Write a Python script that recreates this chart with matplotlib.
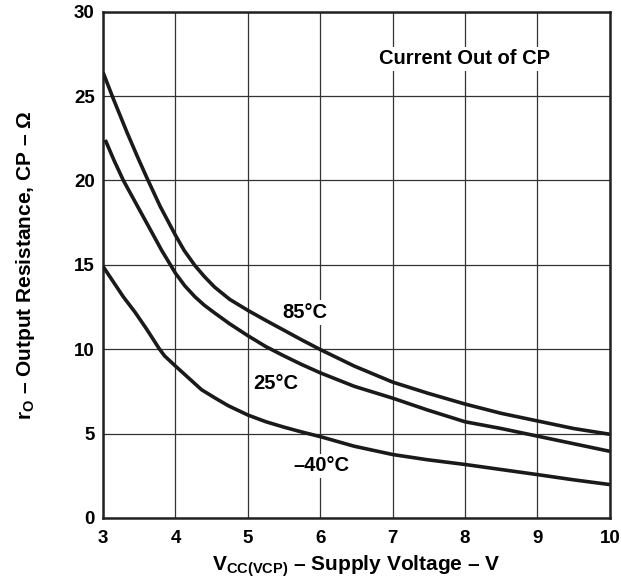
import matplotlib
matplotlib.use('Agg')
import matplotlib.pyplot as plt

plt.rcParams['font.family'] = ['Liberation Sans', 'DejaVu Sans']
plt.rcParams['font.weight'] = 'bold'
plt.rcParams['mathtext.fontset'] = 'custom'
plt.rcParams['mathtext.rm'] = 'Liberation Sans:bold'
plt.rcParams['mathtext.bf'] = 'Liberation Sans:bold'

# values
v_85 = [3.0, 3.14, 3.33, 3.47, 3.6, 3.79, 4.0, 4.12, 4.27, 4.4, 4.54, 4.75, 5.0, 5.25, 5.5,
        5.74, 6.0, 6.47, 7.0, 7.48, 8.0, 8.5, 9.0, 9.5, 10.0]
r_85 = [26.4, 24.85, 22.85, 21.45, 20.2, 18.45, 16.75, 15.85, 14.95, 14.3, 13.68, 12.95, 12.3, 11.7, 11.12,
        10.56, 9.98, 9.0, 8.05, 7.4, 6.75, 6.2, 5.75, 5.3, 4.96]

v_25 = [3.03, 3.15, 3.28, 3.51, 3.74, 3.81, 3.93, 4.0, 4.13, 4.27, 4.4, 4.54, 4.75, 5.0, 5.25,
        5.5, 5.74, 6.0, 6.47, 7.0, 7.48, 8.0, 8.5, 9.0, 9.5, 10.0]
r_25 = [22.4, 21.2, 20.0, 18.2, 16.4, 15.85, 15.0, 14.5, 13.75, 13.1, 12.6, 12.15, 11.5, 10.8, 10.15,
        9.6, 9.1, 8.6, 7.8, 7.1, 6.4, 5.7, 5.3, 4.85, 4.4, 3.95]

v_m40 = [3.0, 3.14, 3.28, 3.44, 3.6, 3.72, 3.78, 3.85, 4.0, 4.18, 4.36, 4.55, 4.73, 5.0, 5.25,
         5.5, 5.74, 6.0, 6.47, 7.0, 7.48, 8.0, 8.5, 9.0, 9.5, 10.0]
r_m40 = [14.9, 14.0, 13.1, 12.2, 11.2, 10.4, 10.0, 9.6, 9.0, 8.3, 7.6, 7.1, 6.65, 6.1, 5.7,
         5.38, 5.1, 4.82, 4.25, 3.76, 3.45, 3.17, 2.87, 2.57, 2.26, 1.98]

x_ticks = [3, 4, 5, 6, 7, 8, 9, 10]
y_ticks = [0, 5, 10, 15, 20, 25, 30]

fig = plt.figure(figsize=(6.21, 5.82), dpi=100)
ax = fig.add_axes([0.166, 0.110, 0.816, 0.870])

for v, r in [(v_85, r_85), (v_25, r_25), (v_m40, r_m40)]:
    ax.plot(v, r, color='#1a1a1a', lw=2.6, solid_capstyle='butt', solid_joinstyle='round', zorder=3)

ax.set_xlim(3, 10)
ax.set_ylim(0, 30)
ax.set_xticks(x_ticks)
ax.set_yticks(y_ticks)
ax.grid(True, color='#333333', lw=0.9)
ax.tick_params(length=0, labelsize=13.5)
ax.tick_params(axis='x', pad=9)
ax.tick_params(axis='y', pad=6)
for s in ax.spines.values():
    s.set_linewidth(1.8)
    s.set_color('#222222')

box = dict(facecolor='white', edgecolor='none', pad=2)
ax.text(7.99, 27.2, 'Current Out of CP', ha='center', va='center', fontsize=14.5, bbox=box, zorder=4)
ax.text(5.79, 12.17, '85°C', ha='center', va='center', fontsize=14.5, bbox=box, zorder=4)
ax.text(5.38, 7.95, '25°C', ha='center', va='center', fontsize=14.5, bbox=box, zorder=4)
ax.text(6.01, 3.09, '–40°C', ha='center', va='center', fontsize=14.5, bbox=box, zorder=4)

ax.set_xlabel(r'$\mathrm{V_{CC(VCP)}}$ – Supply Voltage – V', fontsize=15, fontweight='bold', labelpad=4)
ax.set_ylabel(r'$\mathrm{r_O}$ – Output Resistance, CP – Ω', fontsize=15, fontweight='bold', labelpad=27)

fig.savefig('out.png', dpi=100)
